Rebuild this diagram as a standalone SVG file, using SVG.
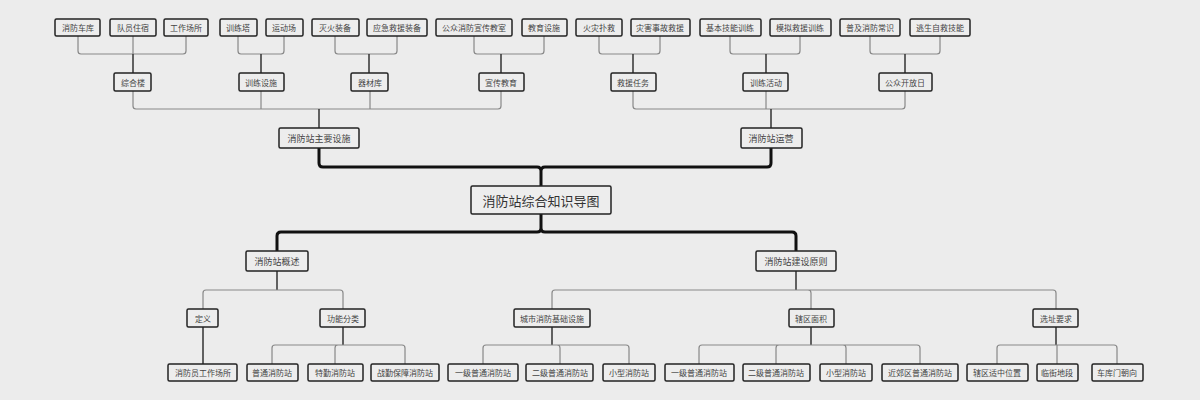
<svg xmlns="http://www.w3.org/2000/svg" width="1200" height="400" viewBox="0 0 1200 400">
<style>
.b{fill:#ededed;stroke:#222;stroke-width:1.5}
.t{font-family:"Noto Sans CJK SC",sans-serif;font-size:8px;fill:#444;text-anchor:middle;dominant-baseline:central}
.t2{font-size:9px}
.t1{font-size:13px;fill:#333}
.c{fill:none;stroke:#888;stroke-width:1.2}
.p{fill:none;stroke:#333;stroke-width:1.5}
.k{fill:none;stroke:#111;stroke-width:3}
</style>
<rect width="1200" height="400" fill="#ececec"/>
<g id="connectors">
<path class="c" d="M78 36V51Q78 54 81 54H183Q186 54 186 51V36M133 36V54"/><path class="p" d="M133 54V73"/>
<path class="c" d="M238 36V51Q238 54 241 54H281Q284 54 284 51V36"/><path class="p" d="M261 54V73"/>
<path class="c" d="M335 36V51Q335 54 338 54H394Q397 54 397 51V36"/><path class="p" d="M369 54V73"/>
<path class="c" d="M474 36V51Q474 54 477 54H541Q544 54 544 51V36"/><path class="p" d="M501 54V73"/>
<path class="c" d="M599 36V51Q599 54 602 54H657Q660 54 660 51V36"/><path class="p" d="M633 54V73"/>
<path class="c" d="M730 36V51Q730 54 733 54H797Q800 54 800 51V36"/><path class="p" d="M766 54V73"/>
<path class="c" d="M870 36V51Q870 54 873 54H937Q940 54 940 51V36"/><path class="p" d="M905 54V73"/>
<path class="c" d="M133 91V106Q133 109 136 109H498Q501 109 501 106V91M261 91V109M370 91V109"/><path class="p" d="M319 109V128"/>
<path class="c" d="M633 91V106Q633 109 636 109H902Q905 109 905 106V91M766 91V109"/><path class="p" d="M771 109V128"/>
<path class="k" d="M319 148V163Q319 167 323 167H537Q541 167 541 171V186M771 148V163Q771 167 767 167H545Q541 167 541 171"/>
<path class="k" d="M541 214V228Q541 232 537 232H281Q277 232 277 236V251M541 228Q541 232 545 232H792Q796 232 796 236V251"/>
<path class="p" d="M277 271V290"/>
<path class="c" d="M277 290H206Q203 290 203 293V309M277 290H340Q343 290 343 293V309"/>
<path class="p" d="M796 271V290"/>
<path class="c" d="M796 290H555Q552 290 552 293V309M796 290H808Q811 290 811 293V309M796 290H1053Q1056 290 1056 293V309"/>
<path class="p" d="M203 327V364M343 327V345M552 327V345M811 327V345M1056 327V345"/>
<path class="c" d="M343 345H275Q272 345 272 348V364M343 345H338Q335 345 335 348V364M343 345H402Q405 345 405 348V364"/>
<path class="c" d="M552 345H486Q483 345 483 348V364M552 345H557Q560 345 560 348V364M552 345H626Q629 345 629 348V364"/>
<path class="c" d="M811 345H702Q699 345 699 348V364M811 345H779Q776 345 776 348V364M811 345H843Q846 345 846 348V364M811 345H917Q920 345 920 348V364"/>
<path class="c" d="M1056 345H1000Q997 345 997 348V364M1056 345H1057V364M1056 345H1114Q1117 345 1117 348V364"/>
</g>
<g id="n1"><rect class="b" x="55" y="19" width="45" height="17" rx="1.5"/><text class="t" x="78" y="27.5">消防车库</text></g>
<g id="n2"><rect class="b" x="110" y="19" width="46" height="17" rx="1.5"/><text class="t" x="133" y="27.5">队员住宿</text></g>
<g id="n3"><rect class="b" x="164" y="19" width="44" height="17" rx="1.5"/><text class="t" x="186" y="27.5">工作场所</text></g>
<g id="n4"><rect class="b" x="220" y="19" width="37" height="17" rx="1.5"/><text class="t" x="238" y="27.5">训练塔</text></g>
<g id="n5"><rect class="b" x="266" y="19" width="37" height="17" rx="1.5"/><text class="t" x="284" y="27.5">运动场</text></g>
<g id="n6"><rect class="b" x="312" y="19" width="47" height="17" rx="1.5"/><text class="t" x="335" y="27.5">灭火装备</text></g>
<g id="n7"><rect class="b" x="367" y="19" width="60" height="17" rx="1.5"/><text class="t" x="397" y="27.5">应急救援装备</text></g>
<g id="n8"><rect class="b" x="436" y="19" width="76" height="17" rx="1.5"/><text class="t" x="474" y="27.5">公众消防宣传教室</text></g>
<g id="n9"><rect class="b" x="522" y="19" width="45" height="17" rx="1.5"/><text class="t" x="544" y="27.5">教育设施</text></g>
<g id="n10"><rect class="b" x="576" y="19" width="46" height="17" rx="1.5"/><text class="t" x="599" y="27.5">火灾扑救</text></g>
<g id="n11"><rect class="b" x="631" y="19" width="59" height="17" rx="1.5"/><text class="t" x="660" y="27.5">灾害事故救援</text></g>
<g id="n12"><rect class="b" x="700" y="19" width="61" height="17" rx="1.5"/><text class="t" x="730" y="27.5">基本技能训练</text></g>
<g id="n13"><rect class="b" x="770" y="19" width="61" height="17" rx="1.5"/><text class="t" x="800" y="27.5">模拟救援训练</text></g>
<g id="n14"><rect class="b" x="840" y="19" width="60" height="17" rx="1.5"/><text class="t" x="870" y="27.5">普及消防常识</text></g>
<g id="n15"><rect class="b" x="910" y="19" width="60" height="17" rx="1.5"/><text class="t" x="940" y="27.5">逃生自救技能</text></g>
<g id="m1"><rect class="b" x="114" y="73" width="37" height="18" rx="1.5"/><text class="t" x="133" y="82">综合楼</text></g>
<g id="m2"><rect class="b" x="239" y="73" width="45" height="18" rx="1.5"/><text class="t" x="261" y="82">训练设施</text></g>
<g id="m3"><rect class="b" x="351" y="73" width="37" height="18" rx="1.5"/><text class="t" x="370" y="82">器材库</text></g>
<g id="m4"><rect class="b" x="479" y="73" width="45" height="18" rx="1.5"/><text class="t" x="501" y="82">宣传教育</text></g>
<g id="m5"><rect class="b" x="611" y="73" width="45" height="18" rx="1.5"/><text class="t" x="633" y="82">救援任务</text></g>
<g id="m6"><rect class="b" x="743" y="73" width="45" height="18" rx="1.5"/><text class="t" x="766" y="82">训练活动</text></g>
<g id="m7"><rect class="b" x="879" y="73" width="53" height="18" rx="1.5"/><text class="t" x="905" y="82">公众开放日</text></g>
<g id="l1"><rect class="b" x="279" y="128" width="80" height="20" rx="1.5"/><text class="t t2" x="319" y="138">消防站主要设施</text></g>
<g id="l2"><rect class="b" x="741" y="128" width="61" height="20" rx="1.5"/><text class="t t2" x="771" y="138">消防站运营</text></g>
<g id="root"><rect class="b" x="471" y="186" width="140" height="28" rx="1.5"/><text class="t t1" x="541" y="200">消防站综合知识导图</text></g>
<g id="l3"><rect class="b" x="246" y="251" width="62" height="20" rx="1.5"/><text class="t t2" x="277" y="261">消防站概述</text></g>
<g id="l4"><rect class="b" x="756" y="251" width="80" height="20" rx="1.5"/><text class="t t2" x="796" y="261">消防站建设原则</text></g>
<g id="q1"><rect class="b" x="187" y="309" width="31" height="18" rx="1.5"/><text class="t" x="203" y="318">定义</text></g>
<g id="q2"><rect class="b" x="320" y="309" width="45" height="18" rx="1.5"/><text class="t" x="343" y="318">功能分类</text></g>
<g id="q3"><rect class="b" x="514" y="309" width="76" height="18" rx="1.5"/><text class="t" x="552" y="318">城市消防基础设施</text></g>
<g id="q4"><rect class="b" x="789" y="309" width="45" height="18" rx="1.5"/><text class="t" x="811" y="318">辖区面积</text></g>
<g id="q5"><rect class="b" x="1033" y="309" width="45" height="18" rx="1.5"/><text class="t" x="1056" y="318">选址要求</text></g>
<g id="f1"><rect class="b" x="168" y="364" width="69" height="17" rx="1.5"/><text class="t" x="203" y="372.5">消防员工作场所</text></g>
<g id="f2"><rect class="b" x="247" y="364" width="51" height="17" rx="1.5"/><text class="t" x="272" y="372.5">普通消防站</text></g>
<g id="f3"><rect class="b" x="308" y="364" width="55" height="17" rx="1.5"/><text class="t" x="335" y="372.5">特勤消防站</text></g>
<g id="f4"><rect class="b" x="371" y="364" width="68" height="17" rx="1.5"/><text class="t" x="405" y="372.5">战勤保障消防站</text></g>
<g id="f5"><rect class="b" x="448" y="364" width="70" height="17" rx="1.5"/><text class="t" x="483" y="372.5">一级普通消防站</text></g>
<g id="f6"><rect class="b" x="526" y="364" width="67" height="17" rx="1.5"/><text class="t" x="560" y="372.5">二级普通消防站</text></g>
<g id="f7"><rect class="b" x="603" y="364" width="52" height="17" rx="1.5"/><text class="t" x="629" y="372.5">小型消防站</text></g>
<g id="f8"><rect class="b" x="665" y="364" width="69" height="17" rx="1.5"/><text class="t" x="699" y="372.5">一级普通消防站</text></g>
<g id="f9"><rect class="b" x="743" y="364" width="67" height="17" rx="1.5"/><text class="t" x="776" y="372.5">二级普通消防站</text></g>
<g id="f10"><rect class="b" x="820" y="364" width="52" height="17" rx="1.5"/><text class="t" x="846" y="372.5">小型消防站</text></g>
<g id="f11"><rect class="b" x="882" y="364" width="76" height="17" rx="1.5"/><text class="t" x="920" y="372.5">近郊区普通消防站</text></g>
<g id="f12"><rect class="b" x="967" y="364" width="61" height="17" rx="1.5"/><text class="t" x="997" y="372.5">辖区适中位置</text></g>
<g id="f13"><rect class="b" x="1037" y="364" width="41" height="17" rx="1.5"/><text class="t" x="1057" y="372.5">临街地段</text></g>
<g id="f14"><rect class="b" x="1092" y="364" width="51" height="17" rx="1.5"/><text class="t" x="1117" y="372.5">车库门朝向</text></g>
</svg>
